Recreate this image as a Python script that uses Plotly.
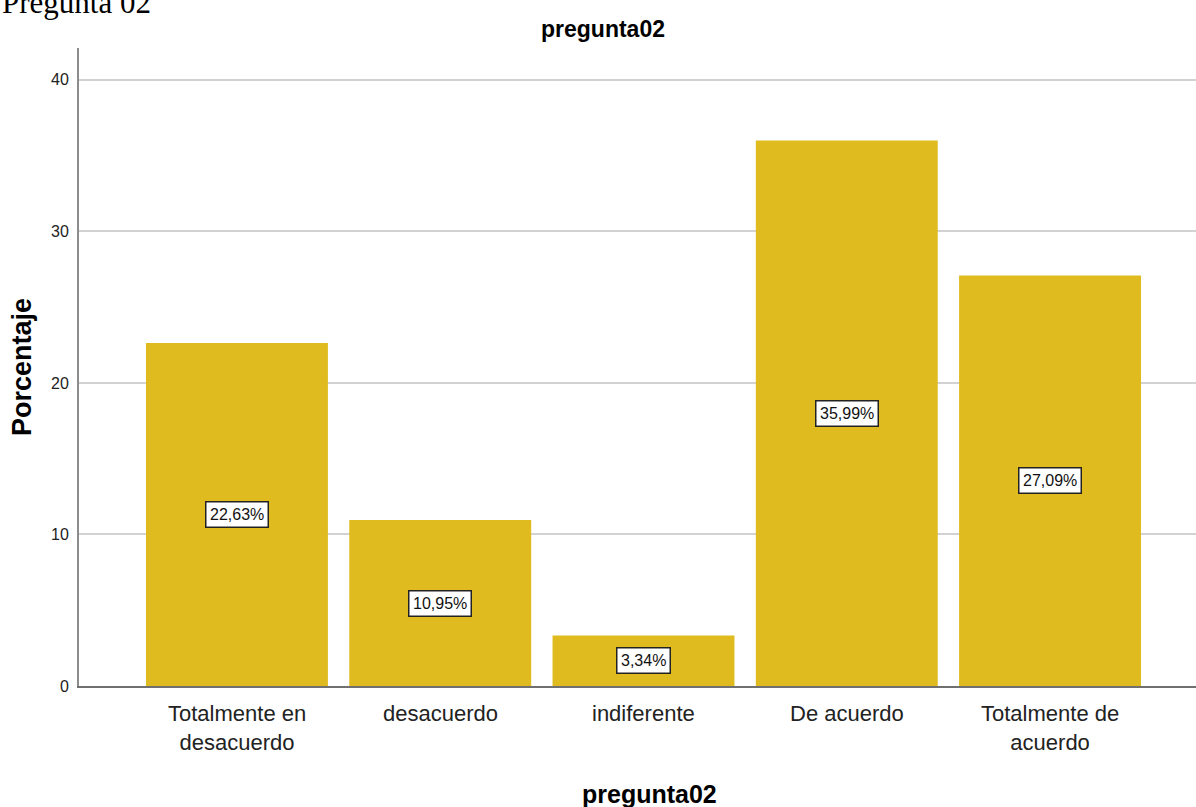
import plotly.graph_objects as go

# Response categories and their percentages
categories = ["Totalmente en desacuerdo", "desacuerdo", "indiferente",
              "De acuerdo", "Totalmente de acuerdo"]
tick_labels = ["Totalmente en<br>desacuerdo", "desacuerdo", "indiferente",
               "De acuerdo", "Totalmente de<br>acuerdo"]
percentages = [22.63, 10.95, 3.34, 35.99, 27.09]
y_ticks = [0, 10, 20, 30, 40]

BAR_COLOR = "#DFBB1F"
SANS = "Liberation Sans, Arial, sans-serif"

fig = go.Figure()
fig.add_trace(go.Bar(
    x=categories, y=percentages,
    marker=dict(color=BAR_COLOR, line=dict(width=0)),
    width=0.895, hoverinfo="skip",
))

annotations = []
# value labels inside each bar, at half height
for cat, val in zip(categories, percentages):
    annotations.append(dict(
        x=cat, y=val / 2, xref="x", yref="y",
        text=f"{val:.2f}".replace(".", ",") + "%",
        showarrow=False, bgcolor="white", bordercolor="#222",
        borderwidth=1.5, borderpad=3.5,
        font=dict(family=SANS, size=16, color="#111"),
    ))

# category labels under the axis
for cat, lab in zip(categories, tick_labels):
    annotations.append(dict(
        x=cat, y=0, xref="x", yref="y",
        text=lab, showarrow=False, yanchor="top", yshift=-13,
        font=dict(family=SANS, size=22, color="#222"),
    ))

plot_w, plot_h, left, top = 1117, 638, 79, 48
def px_x(px):
    return (px - left) / plot_w
def px_y(py):
    return 1 - (py - top) / plot_h

# heading, chart title, axis titles
annotations += [
    dict(x=px_x(0), y=px_y(3), xref="paper", yref="paper", xanchor="left",
         yanchor="middle", text="Pregunta 02", showarrow=False,
         font=dict(family="Liberation Serif, Times New Roman, serif", size=31, color="black")),
    dict(x=px_x(603), y=px_y(29), xref="paper", yref="paper",
         xanchor="center", yanchor="middle",
         text="<b>pregunta02</b>", showarrow=False,
         font=dict(family=SANS, size=23, color="black")),
    dict(x=px_x(649), y=px_y(794), xref="paper", yref="paper",
         xanchor="center", yanchor="middle",
         text="<b>pregunta02</b>", showarrow=False,
         font=dict(family=SANS, size=25, color="black")),
    dict(x=px_x(22), y=px_y(367), xref="paper", yref="paper",
         xanchor="center", yanchor="middle",
         text="<b>Porcentaje</b>", textangle=-90, showarrow=False,
         font=dict(family=SANS, size=27, color="black")),
]

fig.update_layout(
    width=1196, height=807,
    margin=dict(l=left, r=0, t=top, b=807 - top - plot_h, pad=0),
    paper_bgcolor="white", plot_bgcolor="white",
    showlegend=False, bargap=0.1,
    annotations=annotations,
    xaxis=dict(
        range=[-0.777, 4.718], showticklabels=False, ticks="",
        showgrid=False, zeroline=False,
        showline=True, linecolor="#707070", linewidth=2,
    ),
    yaxis=dict(
        range=[0, 42.1], tickvals=y_ticks, ticks="",
        ticklabelstandoff=5,
        tickfont=dict(family=SANS, size=16, color="#222"),
        showgrid=True, gridcolor="#D2D2D2", gridwidth=1.8,
        zeroline=False,
        showline=True, linecolor="#8C8C8C", linewidth=2,
    ),
)

fig.write_html("out.html")
